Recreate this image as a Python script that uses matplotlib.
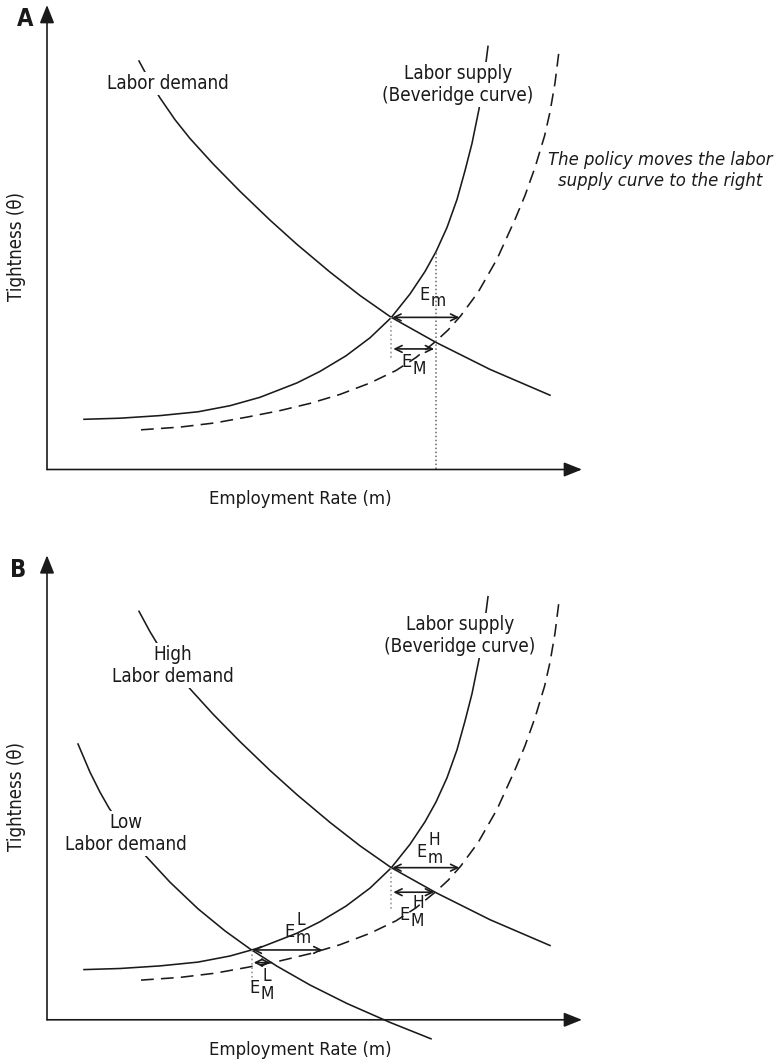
import numpy as np
import matplotlib
matplotlib.use("Agg")
import matplotlib.pyplot as plt
from matplotlib import font_manager

# ---- curves (employment rate m, tightness theta) ----
# labor demand (panel A) / high labor demand (panel B)
demand_m = [92, 103, 113, 128, 143, 166, 193, 223, 250, 283, 313, 344, 389, 443, 503]
demand_theta = [408.5, 388.1, 371.6, 349.8, 331.0, 305.7, 278.2, 249.4, 225.1,
                197.4, 174.0, 152.3, 127.1, 100.1, 74.3]

# low labor demand (panel B)
low_demand_m = [31, 43, 53, 62, 78, 98, 123, 151, 178, 203, 230, 263, 300, 343, 384]
low_demand_theta = [275.8, 247.6, 227.6, 211.8, 188.6, 164.6, 137.6, 111.0, 88.9,
                    70.9, 53.6, 34.8, 16.3, -2.6, -19.0]

# labor supply / Beveridge curve
supply_m = [37, 73, 113, 151, 183, 213, 250, 273, 299, 323, 344, 363, 378, 389,
            400, 410, 418, 425, 432, 437, 441]
supply_theta = [50.2, 51.3, 53.9, 57.7, 63.8, 72.2, 86.6, 98.1, 113.7, 131.7, 151.7,
                175.5, 198.0, 217.8, 242.0, 270.0, 298.8, 326.1, 360.4, 391.9, 423.1]

# labor supply after the policy
shifted_m = [94, 133, 168, 200.5, 233, 263, 293, 323, 349, 369, 388.6, 401, 413.4,
             431, 450, 467.9, 478, 488, 497.6, 503, 508, 512.4]
shifted_theta = [39.7, 42.4, 46.6, 52.5, 58.9, 66.1, 75.1, 86.5, 99.0, 112.0, 128.0,
                 139.4, 153.3, 177.1, 210.4, 249.8, 274.0, 302.0, 333.7, 357.5,
                 386.5, 421.7]

ink = "#1a1a1a"

# condensed sans if there is one
entries = font_manager.fontManager.ttflist
if any(f.name == "DejaVu Sans" and "condensed" in str(f.stretch) for f in entries):
    FAM, STRETCH, FS = "DejaVu Sans", "condensed", 1.0
elif any(f.name == "Liberation Sans Narrow" for f in entries):
    FAM, STRETCH, FS = "Liberation Sans Narrow", "normal", 1.05
else:
    FAM, STRETCH, FS = "DejaVu Sans", "normal", 0.88
plt.rcParams["font.family"] = [FAM, "DejaVu Sans"]
plt.rcParams["font.stretch"] = STRETCH


def crossing(m1, t1, m2, t2):
    grid = np.linspace(max(m1[0], m2[0]), min(m1[-1], m2[-1]), 4000)
    d = np.interp(grid, m1, t1) - np.interp(grid, m2, t2)
    i = np.argmin(np.abs(d))
    return grid[i], np.interp(grid[i], m1, t1)


def draw_frame(ax, letter, letter_x):
    kw = dict(arrowstyle="-|>,head_length=0.55,head_width=0.22", color=ink, lw=1.2,
              mutation_scale=20, shrinkA=0, shrinkB=0)
    ax.annotate("", xy=(0, 464.5), xytext=(0, 0), arrowprops=kw)
    ax.annotate("", xy=(535, 0), xytext=(0, 0), arrowprops=kw)
    ax.text(letter_x, 450, letter, fontsize=17 * FS, fontweight="bold",
            ha="center", va="center", color=ink)
    ax.text(-30, 223, "Tightness (θ)", rotation=90, fontsize=13.4 * FS,
            ha="center", va="center", color=ink)
    ax.text(253, -30, "Employment Rate (m)", fontsize=13.2 * FS,
            ha="center", va="center", color=ink)


def curve(ax, m, t, dashed=False):
    if dashed:
        ax.plot(m, t, color=ink, lw=1.15, dashes=(8, 4.5))
    else:
        ax.plot(m, t, color=ink, lw=1.15, solid_joinstyle="round")


def label(ax, x, y, s, **kw):
    ax.text(x, y, s, fontsize=13.5 * FS, ha="center", va="center", color=ink,
            linespacing=1.2, zorder=4,
            bbox=dict(fc="white", ec="none", pad=1.5), **kw)


def e_label(ax, x, y, sub, sup=None):
    ax.text(x, y, "E", fontsize=13 * FS, color=ink, ha="left", va="baseline")
    ax.text(x + 12, y - 6.5, sub, fontsize=12.5 * FS, color=ink, ha="left", va="baseline")
    if sup:
        ax.text(x + 13, y + 12, sup, fontsize=12.5 * FS, color=ink, ha="left", va="baseline")


def two_way(ax, x0, x1, y):
    ax.annotate("", xy=(x1, y), xytext=(x0, y),
                arrowprops=dict(arrowstyle="<->,head_length=0.45,head_width=0.22",
                                color=ink, lw=1.2, mutation_scale=11,
                                shrinkA=0, shrinkB=0), zorder=5)


def gaps(ax, demand, sub_offset, drop):
    dm, dt = demand
    m_old, t_old = crossing(dm, dt, supply_m, supply_theta)
    m_new, t_new = crossing(dm, dt, shifted_m, shifted_theta)
    # dotted drop below the initial equilibrium
    ax.plot([m_old, m_old], [t_old, t_old - drop], color="#9a9a9a", lw=1.2,
            ls=(0, (1, 1.6)))
    # E_m: from the equilibrium to the new supply curve at the same tightness
    two_way(ax, m_old + 1, np.interp(t_old, shifted_theta, shifted_m), t_old)
    # E_M: from the old to the new equilibrium employment
    two_way(ax, m_old + 2, m_new - 1, t_new - sub_offset)
    return m_old, t_old, m_new, t_new


fig = plt.figure(figsize=(7.76, 10.61), dpi=100)
axA = fig.add_axes([0, 1 - 530 / 1061, 1, 530 / 1061])
axB = fig.add_axes([0, 0, 1, 531 / 1061])
axA.set_xlim(-47, 729)
axA.set_ylim(-60.5, 469.5)
axB.set_xlim(-47, 729)
axB.set_ylim(-41.2, 489.8)
for ax in (axA, axB):
    ax.axis("off")

# ---- panel A ----
draw_frame(axA, "A", -22)
curve(axA, demand_m, demand_theta)
curve(axA, supply_m, supply_theta)
curve(axA, shifted_m, shifted_theta, dashed=True)
m_old, t_old, m_new, t_new = gaps(axA, (demand_m, demand_theta), 7, 41)
axA.plot([m_new + 1, m_new + 1], [np.interp(m_new, supply_m, supply_theta), 0],
         color="#666666", lw=1.1, ls=(0, (1, 1.6)))
label(axA, 121, 386, "Labor demand")
label(axA, 411, 385, "Labor supply\n(Beveridge curve)")
axA.text(613, 299, "The policy moves the labor\nsupply curve to the right",
         fontsize=13.2 * FS, style="italic", ha="center", va="center", color=ink,
         linespacing=1.2)
e_label(axA, 372, 169.5, "m")
e_label(axA, 354, 102, "M")

# ---- panel B ----
draw_frame(axB, "B", -29)
curve(axB, demand_m, demand_theta)
curve(axB, low_demand_m, low_demand_theta)
curve(axB, supply_m, supply_theta)
curve(axB, shifted_m, shifted_theta, dashed=True)
gaps(axB, (demand_m, demand_theta), 0, 42)
gaps(axB, (low_demand_m, low_demand_theta), 0, 33)
label(axB, 126, 354, "High\nLabor demand")
label(axB, 79, 186, "Low\nLabor demand")
label(axB, 413, 384, "Labor supply\n(Beveridge curve)")
e_label(axB, 369, 163, "m", "H")
e_label(axB, 352, 100, "M", "H")
e_label(axB, 237, 83, "m", "L")
e_label(axB, 202, 27, "M", "L")

fig.savefig("out.png", dpi=100, facecolor="white")
